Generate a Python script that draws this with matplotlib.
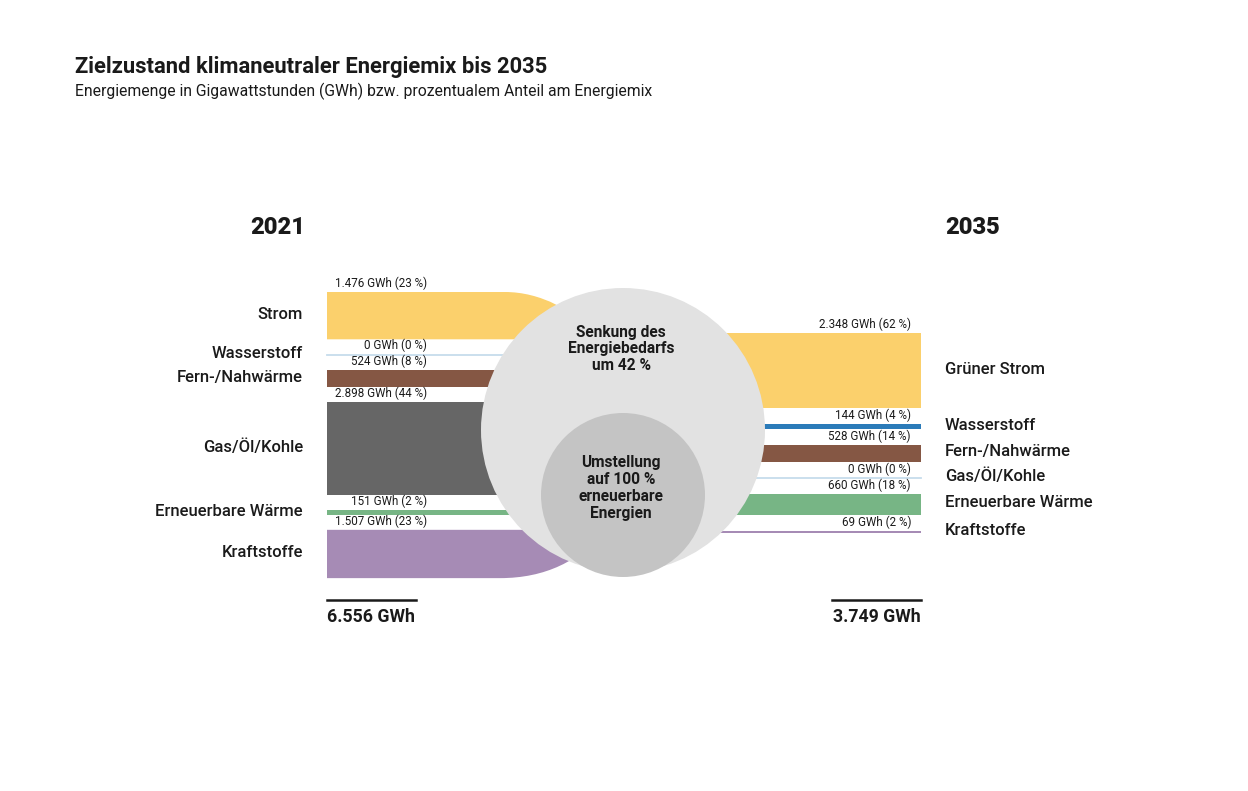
import matplotlib.pyplot as plt
from matplotlib.path import Path
from matplotlib.patches import PathPatch, Rectangle, Circle

plt.rcParams['font.family'] = ['Roboto', 'DejaVu Sans']

# data
categories_2021 = ["Strom", "Wasserstoff", "Fern-/Nahwärme", "Gas/Öl/Kohle",
                   "Erneuerbare Wärme", "Kraftstoffe"]
gwh_2021 = [1476, 0, 524, 2898, 151, 1507]
pct_2021 = [23, 0, 8, 44, 2, 23]

categories_2035 = ["Grüner Strom", "Wasserstoff", "Fern-/Nahwärme", "Gas/Öl/Kohle",
                   "Erneuerbare Wärme", "Kraftstoffe"]
gwh_2035 = [2348, 144, 528, 0, 660, 69]
pct_2035 = [62, 4, 14, 0, 18, 2]

colors_2021 = ["#fbd06c", "#c6dcec", "#855744", "#666666", "#77b585", "#a68bb5"]
colors_2035 = ["#fbd06c", "#2b7bb9", "#855744", "#c6dcec", "#77b585", "#a68bb5"]

title = "Zielzustand klimaneutraler Energiemix bis 2035"
subtitle = "Energiemenge in Gigawattstunden (GWh) bzw. prozentualem Anteil am Energiemix"

# layout (pixel space)
PX_PER_GWH = 1 / 31.2
LEFT_X0, LEFT_X1 = 327, 560
RIGHT_X0, RIGHT_X1 = 715, 921
LEFT_TOP, RIGHT_TOP = 292, 333
DARK = "#1a1a1a"


def fmt(v):
    return f"{v:,}".replace(",", ".")


def stack(values, top, gap):
    out = []
    y = top
    for v in values:
        h = v * PX_PER_GWH
        out.append((y, h))
        y += h + gap
    return out


fig = plt.figure(figsize=(12.48, 7.91), dpi=100)
ax = fig.add_axes([0, 0, 1, 1])
ax.set_xlim(0, 1248)
ax.set_ylim(791, 0)
ax.axis('off')

fig.text(75 / 1248, 1 - 67 / 791, title, fontsize=15.8, fontweight='bold',
         color=DARK, va='center', ha='left')
fig.text(75 / 1248, 1 - 91 / 791, subtitle, fontsize=11.3, color=DARK,
         va='center', ha='left')

ax.text(305, 228, "2021", fontsize=17, fontweight='heavy', ha='right', va='center', color=DARK)
ax.text(945, 228, "2035", fontsize=17, fontweight='heavy', ha='left', va='center', color=DARK)

# left side
left = stack(gwh_2021, LEFT_TOP, 15.2)
for i, ((y, h), v) in enumerate(zip(left, gwh_2021)):
    c = colors_2021[i]
    if v == 0:
        ax.plot([LEFT_X0, LEFT_X1], [y, y], color=c, lw=1.3, zorder=1)
        hc = y
    elif i == 0:
        # top band bends down into the circle
        verts = [(LEFT_X0, y), (505, y), (540, y), (575, y + 18), (600, y + h),
                 (LEFT_X0, y + h), (LEFT_X0, y)]
        codes = [Path.MOVETO, Path.LINETO, Path.CURVE4, Path.CURVE4, Path.CURVE4,
                 Path.LINETO, Path.CLOSEPOLY]
        ax.add_patch(PathPatch(Path(verts, codes), fc=c, ec='none', zorder=1))
        hc = y + h / 2
    elif i == len(gwh_2021) - 1:
        # bottom band bends up into the circle
        verts = [(LEFT_X0, y), (605, y), (580, y + h - 17), (545, y + h), (500, y + h),
                 (LEFT_X0, y + h), (LEFT_X0, y)]
        codes = [Path.MOVETO, Path.LINETO, Path.CURVE4, Path.CURVE4, Path.CURVE4,
                 Path.LINETO, Path.CLOSEPOLY]
        ax.add_patch(PathPatch(Path(verts, codes), fc=c, ec='none', zorder=1))
        hc = y + h / 2
    else:
        ax.add_patch(Rectangle((LEFT_X0, y), LEFT_X1 - LEFT_X0, h, fc=c, ec='none', zorder=1))
        hc = y + h / 2
    ax.text(427, y - 2, f"{fmt(v)} GWh ({pct_2021[i]} %)", fontsize=8.4,
            ha='right', va='bottom', color=DARK, zorder=5)
    ax.text(303, hc - 1, categories_2021[i], fontsize=12, fontweight='medium',
            ha='right', va='center', color=DARK)

# right side
right = stack(gwh_2035, RIGHT_TOP, 16)
for i, ((y, h), v) in enumerate(zip(right, gwh_2035)):
    c = colors_2035[i]
    if v == 0:
        ax.plot([RIGHT_X0, RIGHT_X1], [y, y], color=c, lw=1.3, zorder=1)
    else:
        ax.add_patch(Rectangle((RIGHT_X0, y), RIGHT_X1 - RIGHT_X0, h, fc=c, ec='none', zorder=1))
    ax.text(911, y - 2, f"{fmt(v)} GWh ({pct_2035[i]} %)", fontsize=8.4,
            ha='right', va='bottom', color=DARK, zorder=5)
    ax.text(945, y + h / 2 - 1.5, categories_2035[i], fontsize=12, fontweight='medium',
            ha='left', va='center', color=DARK)

# circles
ax.add_patch(Circle((623, 430), 142, fc="#e2e2e2", ec='none', zorder=2))
ax.add_patch(Circle((623, 495), 82, fc="#c4c4c4", ec='none', zorder=3))
ax.text(621, 349, "Senkung des\nEnergiebedarfs\num 42 %", fontsize=11.2, fontweight='bold',
        ha='center', va='center', color=DARK, linespacing=1.15, zorder=4)
ax.text(621, 488, "Umstellung\nauf 100 %\nerneuerbare\nEnergien", fontsize=11.2, fontweight='bold',
        ha='center', va='center', color=DARK, linespacing=1.15, zorder=4)

# totals
ax.plot([327, 416], [600, 600], color=DARK, lw=1.8)
ax.plot([832, 921], [600, 600], color=DARK, lw=1.8)
ax.text(327, 617, f"{fmt(sum(gwh_2021))} GWh", fontsize=12.8, fontweight='bold',
        ha='left', va='center', color=DARK)
ax.text(921, 617, f"{fmt(sum(gwh_2035))} GWh", fontsize=12.8, fontweight='bold',
        ha='right', va='center', color=DARK)

fig.savefig("out.png", dpi=100, facecolor='white')
